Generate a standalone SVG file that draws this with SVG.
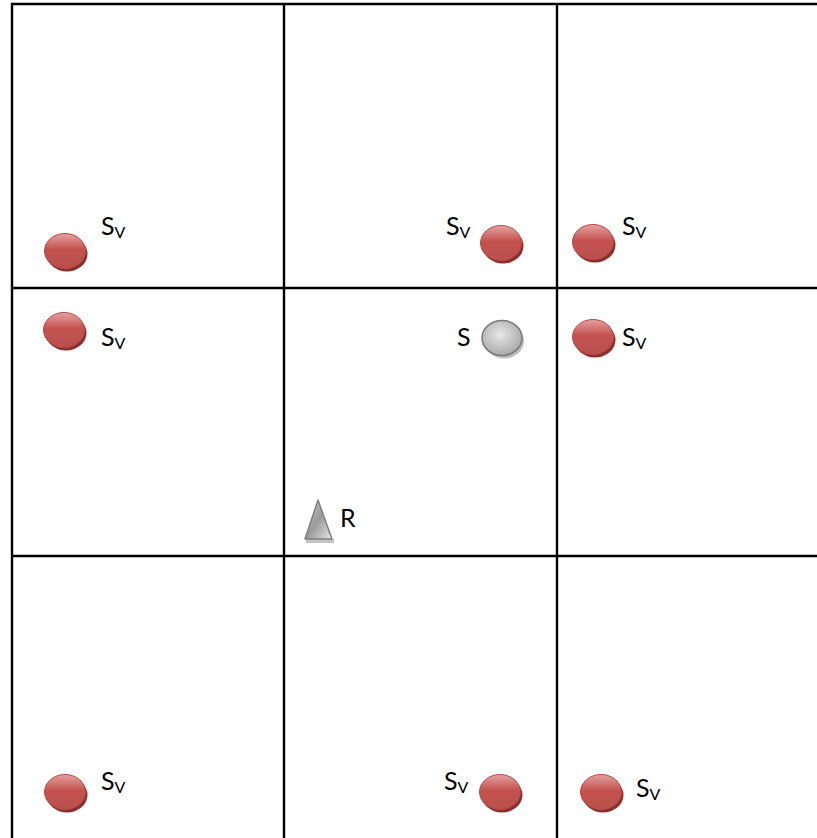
<svg xmlns="http://www.w3.org/2000/svg" width="817" height="838" viewBox="0 0 817 838">
<defs>
<linearGradient id="redG" x1="0" y1="0" x2="0" y2="1">
<stop offset="0" stop-color="#e4a3a2"/>
<stop offset="0.45" stop-color="#c4524f"/>
<stop offset="1" stop-color="#b9504d"/>
</linearGradient>
<radialGradient id="grayG" cx="0.45" cy="0.4" r="0.6">
<stop offset="0" stop-color="#e8e8e8"/>
<stop offset="1" stop-color="#a9a9a9"/>
</radialGradient>
<linearGradient id="triG" x1="0" y1="0" x2="1" y2="1">
<stop offset="0" stop-color="#d0d0d0"/>
<stop offset="0.5" stop-color="#9a9a9a"/>
<stop offset="1" stop-color="#e6e6e6"/>
</linearGradient>
<g id="redDisc">
<ellipse cx="2" cy="3" rx="20.5" ry="17.5" fill="#8c2e2c"/>
<ellipse cx="0" cy="0" rx="20.5" ry="17.5" fill="url(#redG)" stroke="#b84a47" stroke-width="1"/>
</g>
</defs>
<style>
.grid line{stroke:#000;stroke-width:2.4}
.lbl{font-family:Lato,"Open Sans","Liberation Sans",sans-serif;font-size:25px;fill:#000}
.sub{font-size:16px}
</style>
<g id="grid" class="grid">
<line x1="12" y1="4" x2="817" y2="4"/>
<line x1="12" y1="288" x2="817" y2="288"/>
<line x1="12" y1="556" x2="817" y2="556"/>
<line x1="12" y1="2.8" x2="12" y2="838"/>
<line x1="284" y1="4" x2="284" y2="838"/>
<line x1="557" y1="4" x2="557" y2="838"/>
</g>
<g id="sv1"><use href="#redDisc" x="65" y="251"/><text class="lbl" x="101" y="235">S<tspan class="sub" dy="3">V</tspan></text></g>
<g id="sv2"><use href="#redDisc" x="501" y="243"/><text class="lbl" x="446" y="235">S<tspan class="sub" dy="3">V</tspan></text></g>
<g id="sv3"><use href="#redDisc" x="593" y="242"/><text class="lbl" x="622" y="235">S<tspan class="sub" dy="3">V</tspan></text></g>
<g id="sv4"><use href="#redDisc" x="64" y="330"/><text class="lbl" x="101" y="346">S<tspan class="sub" dy="3">V</tspan></text></g>
<g id="s"><ellipse cx="504" cy="341" rx="20" ry="17.5" fill="#bdbdbd"/><ellipse cx="502" cy="338" rx="20" ry="17.5" fill="url(#grayG)" stroke="#7a7a7a" stroke-width="1.5"/><text class="lbl" x="457" y="346">S</text></g>
<g id="sv5"><use href="#redDisc" x="593" y="337"/><text class="lbl" x="622" y="346">S<tspan class="sub" dy="3">V</tspan></text></g>
<g id="r"><rect x="306" y="539" width="28" height="4" fill="#c4c4c4"/><polygon points="318,500 305,539 332,539" fill="url(#triG)" stroke="#7f7f7f" stroke-width="1.5" stroke-linejoin="round"/><text class="lbl" x="340" y="527">R</text></g>
<g id="sv6"><use href="#redDisc" x="65" y="792"/><text class="lbl" x="101" y="790">S<tspan class="sub" dy="3">V</tspan></text></g>
<g id="sv7"><use href="#redDisc" x="500" y="792"/><text class="lbl" x="444" y="790">S<tspan class="sub" dy="3">V</tspan></text></g>
<g id="sv8"><use href="#redDisc" x="601" y="792"/><text class="lbl" x="636" y="797">S<tspan class="sub" dy="3">V</tspan></text></g>
</svg>
